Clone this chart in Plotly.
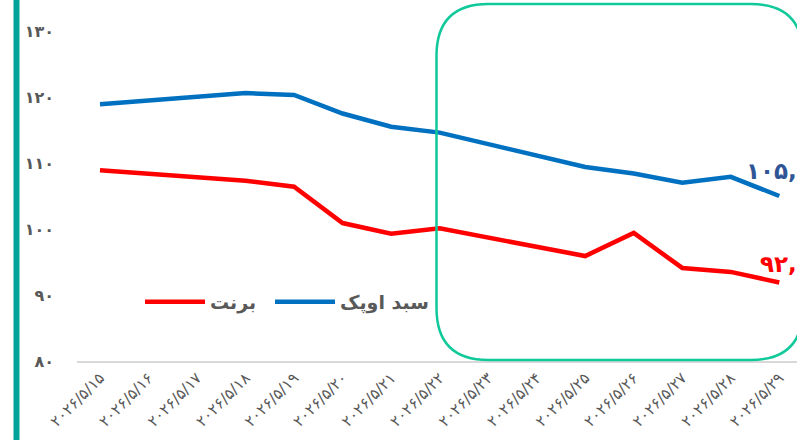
import plotly.graph_objects as go

dates = ["۲۰۲۶/۵/۱۵", "۲۰۲۶/۵/۱۶", "۲۰۲۶/۵/۱۷", "۲۰۲۶/۵/۱۸", "۲۰۲۶/۵/۱۹",
         "۲۰۲۶/۵/۲۰", "۲۰۲۶/۵/۲۱", "۲۰۲۶/۵/۲۲", "۲۰۲۶/۵/۲۳", "۲۰۲۶/۵/۲۴",
         "۲۰۲۶/۵/۲۵", "۲۰۲۶/۵/۲۶", "۲۰۲۶/۵/۲۷", "۲۰۲۶/۵/۲۸", "۲۰۲۶/۵/۲۹"]
brent = [108.9, None, None, 107.3, 106.4, 100.9, 99.3, 100.1, None, None,
         95.9, 99.4, 94.1, 93.5, 91.9]
opec = [118.9, None, None, 120.6, 120.3, 117.5, 115.5, 114.6, None, None,
        109.4, 108.4, 107.0, 107.9, 105.0]
y_ticks = [80, 90, 100, 110, 120, 130]
y_ticktext = ["۸۰", "۹۰", "۱۰۰", "۱۱۰", "۱۲۰", "۱۳۰"]
brent_name = "برنت"
opec_name = "سبد اوپک"
brent_label = "۹۲,"
opec_label = "۱۰۵,"

x = list(range(len(dates)))
FONT = "DejaVu Sans"
GRAY = "#595959"

fig = go.Figure()
fig.add_trace(go.Scatter(x=x, y=brent, name=brent_name, mode="lines",
                         connectgaps=True, legend="legend",
                         line=dict(color="#FF0000", width=4.5)))
fig.add_trace(go.Scatter(x=x, y=opec, name=opec_name, mode="lines",
                         connectgaps=True, legend="legend2",
                         line=dict(color="#0070C0", width=4.5)))

L, T, B, R = 77, 31, 79, 0
W, H = 797, 440
pw, ph = W - L - R, H - T - B

def px_x(p):
    return (p - L) / pw

def px_y(p):
    return (H - B - p) / ph

# rounded rectangle (green)
x0, x1, y0, y1 = px_x(436.5), px_x(803), px_y(360), px_y(4)
rx, ry = 52 / pw, 52 / ph
path = (f"M {x0+rx},{y1} L {x1-rx},{y1} Q {x1},{y1} {x1},{y1-ry} "
        f"L {x1},{y0+ry} Q {x1},{y0} {x1-rx},{y0} L {x0+rx},{y0} "
        f"Q {x0},{y0} {x0},{y0+ry} L {x0},{y1-ry} Q {x0},{y1} {x0+rx},{y1} Z")
fig.add_shape(type="path", path=path, xref="paper", yref="paper",
              line=dict(color="#10C99A", width=2.5), layer="above")

# left teal bar
fig.add_shape(type="rect", xref="paper", yref="paper",
              x0=px_x(13.5), x1=px_x(19.5), y0=px_y(445), y1=px_y(-5),
              fillcolor="#00A39A", line=dict(width=0), layer="above")

fig.add_annotation(text=opec_label, xref="paper", yref="paper",
                   x=px_x(798), y=px_y(171), xanchor="right", yanchor="middle",
                   showarrow=False, borderpad=0,
                   font=dict(family=FONT, size=23, color="#2F5597", weight="bold"))
fig.add_annotation(text=brent_label, xref="paper", yref="paper",
                   x=px_x(798), y=px_y(264), xanchor="right", yanchor="middle",
                   showarrow=False, borderpad=0,
                   font=dict(family=FONT, size=23, color="#FF0000", weight="bold"))

legend_common = dict(orientation="h", xanchor="left", yanchor="middle",
                     font=dict(family=FONT, size=19, color=GRAY, weight="bold"),
                     itemwidth=60, bgcolor="rgba(0,0,0,0)")

fig.update_layout(
    width=W, height=H,
    margin=dict(l=L, r=R, t=T, b=B, autoexpand=False),
    paper_bgcolor="white", plot_bgcolor="white",
    showlegend=True,
    legend=dict(x=px_x(140), y=px_y(302), **legend_common),
    legend2=dict(x=px_x(270), y=px_y(302), **legend_common),
    xaxis=dict(range=[-0.474, 14.365], tickmode="array", tickvals=x,
               ticktext=dates, tickangle=-45, showgrid=False, zeroline=False,
               showline=True, linecolor="#D9D9D9", linewidth=1.5,
               ticks="", automargin=False,
               tickfont=dict(family=FONT, size=15.5, color=GRAY)),
    yaxis=dict(range=[80, 130], tickmode="array", tickvals=y_ticks,
               ticktext=y_ticktext, showgrid=False, zeroline=False,
               showline=False, ticks="", ticklabelstandoff=22, automargin=False,
               tickfont=dict(family=FONT, size=16, color=GRAY, weight="bold")),
)

fig.write_html("out.html", config={"displayModeBar": False},
               post_script="document.body.style.margin='0';document.body.style.overflow='hidden';")
